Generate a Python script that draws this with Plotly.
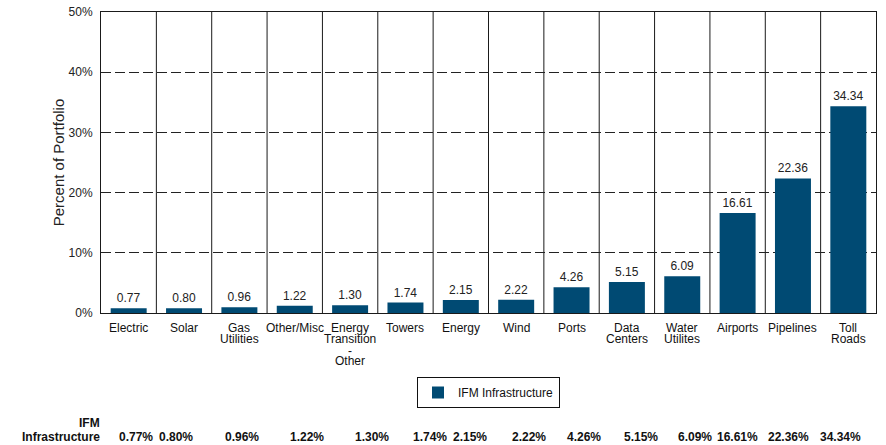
import plotly.graph_objects as go

# Portfolio breakdown by infrastructure sector
categories = [
    ["Electric"], ["Solar"], ["Gas", "Utilities"], ["Other/Misc"],
    ["Energy", "Transition", "-", "Other"], ["Towers"], ["Energy"], ["Wind"],
    ["Ports"], ["Data", "Centers"], ["Water", "Utilites"], ["Airports"],
    ["Pipelines"], ["Toll", "Roads"],
]
ifm_infrastructure = [0.77, 0.80, 0.96, 1.22, 1.30, 1.74, 2.15, 2.22,
                      4.26, 5.15, 6.09, 16.61, 22.36, 34.34]
y_ticks = [0, 10, 20, 30, 40, 50]
series_name = "IFM Infrastructure"

# Page geometry (pixels)
W, H = 886, 445
L, R, T, B = 101, 10, 12, 132
plot_w = W - L - R
plot_h = H - T - B

# Horizontal centres of the summary-table columns below the chart (pixels)
table_cols_px = [136, 176, 242, 307, 372, 430, 470, 529, 584, 641, 695, 737, 788, 840]

BAR = "#004A73"
FONT = "Liberation Sans, Arial, sans-serif"

x = list(range(len(ifm_infrastructure)))

fig = go.Figure()
fig.add_trace(go.Bar(
    x=x, y=ifm_infrastructure, name=series_name,
    marker=dict(color=BAR, line=dict(width=0)),
    width=0.65,
    text=[f"{v:.2f}" for v in ifm_infrastructure],
    textposition="outside",
    textfont=dict(size=12, color="#222222", family=FONT),
    cliponaxis=False,
    showlegend=True,
))

shapes = []
# solid separators between categories
for i in range(len(x) - 1):
    shapes.append(dict(type="line", xref="x", yref="paper",
                       x0=i + 0.5, x1=i + 0.5, y0=0, y1=1,
                       line=dict(color="#1a1a1a", width=1), layer="below"))

annotations = []
# multi-line category labels under the axis, one line per annotation
for i, lines in enumerate(categories):
    for k, line in enumerate(lines):
        ann = dict(
            x=i, xref="x", y=0, yref="paper", yanchor="middle",
            yshift=-(14.7 + k * 11.2), text=line if line != "-" else "&#45;",
            showarrow=False,
            font=dict(size=12, color="#111111", family=FONT))
        if line == "-":
            ann["height"] = 11
        annotations.append(ann)

# summary table row
row_y1 = -(423 - (T + plot_h))
row_y2 = -(437 - (T + plot_h))
annotations.append(dict(x=0, xref="paper", xanchor="right", xshift=1,
                        y=0, yref="paper", yanchor="middle", yshift=row_y1,
                        text="<b>IFM</b>", showarrow=False,
                        font=dict(size=12, color="#111111", family=FONT)))
annotations.append(dict(x=0, xref="paper", xanchor="right", xshift=1,
                        y=0, yref="paper", yanchor="middle", yshift=row_y2,
                        text="<b>Infrastructure</b>", showarrow=False,
                        font=dict(size=12, color="#111111", family=FONT)))
for v, cx in zip(ifm_infrastructure, table_cols_px):
    annotations.append(dict(x=(cx - L) / plot_w, xref="paper", xanchor="center",
                            y=0, yref="paper", yanchor="middle", yshift=row_y2,
                            text=f"<b>{v:.2f}%</b>", showarrow=False,
                            font=dict(size=12, color="#111111", family=FONT)))

fig.update_layout(
    width=W, height=H,
    margin=dict(l=L, r=R, t=T, b=B, autoexpand=False),
    paper_bgcolor="white", plot_bgcolor="white",
    font=dict(family=FONT, size=12, color="#111111"),
    shapes=shapes, annotations=annotations,
    legend=dict(
        orientation="h", x=0.5, xanchor="center",
        y=(T + plot_h - 377) / plot_h, yanchor="top",
        bordercolor="#111111", borderwidth=1,
        font=dict(size=12, family=FONT, color="#111111"),
        itemclick=False,
    ),
    xaxis=dict(
        range=[-0.5, len(x) - 0.5], showticklabels=False, ticks="",
        showgrid=False, zeroline=False, automargin=False,
        showline=True, linecolor="#1a1a1a", linewidth=1, mirror=True,
    ),
    yaxis=dict(
        range=[0, 50], tickvals=y_ticks, ticktext=[f"{t}%" for t in y_ticks],
        ticks="", ticklabelstandoff=5, automargin=False,
        tickfont=dict(size=12, family=FONT, color="#222222"),
        showgrid=True, gridcolor="#222222", gridwidth=1, griddash="10px,4px",
        zeroline=False,
        showline=True, linecolor="#1a1a1a", linewidth=1, mirror=True,
        title=dict(text="Percent of Portfolio", standoff=0,
                   font=dict(size=15, family=FONT, color="#222222")),
    ),
    bargap=0.35,
)

fig.write_html("out.html")
